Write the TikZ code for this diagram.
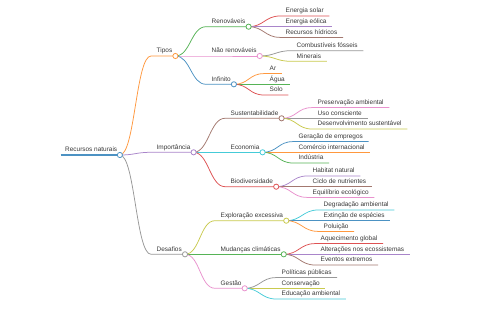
\documentclass[tikz,border=0pt]{standalone}
\usepackage{fontspec}
\setmainfont{Liberation Sans}
\definecolor{cblueB}{HTML}{1F77B4}
\definecolor{corangeB}{HTML}{FF7F0E}
\definecolor{cgreenB}{HTML}{2CA02C}
\definecolor{credB}{HTML}{D62728}
\definecolor{cpurpleB}{HTML}{9467BD}
\definecolor{cbrownB}{HTML}{8C564B}
\definecolor{cpinkB}{HTML}{E377C2}
\definecolor{cgrayB}{HTML}{7F7F7F}
\definecolor{coliveB}{HTML}{BCBD22}
\definecolor{ccyanB}{HTML}{17BECF}
\colorlet{cblue}{cblueB!80!white}
\colorlet{corange}{corangeB!80!white}
\colorlet{cgreen}{cgreenB!80!white}
\colorlet{cred}{credB!80!white}
\colorlet{cpurple}{cpurpleB!80!white}
\colorlet{cbrown}{cbrownB!80!white}
\colorlet{cpink}{cpinkB!80!white}
\colorlet{cgray}{cgrayB!80!white}
\colorlet{colive}{coliveB!80!white}
\colorlet{ccyan}{ccyanB!80!white}
\definecolor{txt}{HTML}{3A3A3A}
\newcommand\mmfont{\fontsize{6.45pt}{7.5pt}\selectfont}
% leaf: name, parent coordinate, x, y, colour, text
\newcommand\mmleaf[6]{%
  \node[tnode] (#1) at (#3,#4) {#6};
  \draw[edge,#5] (#2) .. controls +(15,0) and +(-15,0) .. (#1.south west) -- (#1.south east);
}
% inner node: name, parent coordinate, x, y, colour, text
\newcommand\mminner[6]{%
  \node[tnode] (#1) at (#3,#4) {#6};
  \coordinate (#1C) at ([xshift=-2.5pt]#1.south east);
  \draw[edge,#5] (#2) .. controls +(15,0) and +(-15,0) .. (#1.south west) -- (#1C);
}
\begin{document}
\begin{tikzpicture}[x=1pt,y=-1pt,
  tnode/.style={anchor=south west, inner xsep=5.5pt, inner ysep=1.5pt,
    text height=4.7pt, text depth=1.4pt, font=\mmfont, text=txt},
  edge/.style={line width=0.75pt},
  dot/.style={circle, fill=white, line width=0.8pt, minimum size=5.2pt, inner sep=0pt}]
\fill[white] (0,0) rectangle (480,320);
\useasboundingbox (0,0) rectangle (480,320);

% root
\node[tnode, inner xsep=4.5pt] (root) at (60.5,155) {Recursos naturais};
\coordinate (rootC) at ([xshift=-2pt]root.south east);
\draw[cblue, line width=1.6pt] (root.south west) -- (rootC);

% level 1
\mminner{tip}{rootC}{151}{56}{corange}{Tipos}
\mminner{imp}{rootC}{151}{152.3}{cpurple}{Importância}
\mminner{des}{rootC}{151}{254.3}{cgray}{Desafios}

% level 2
\mminner{ren}{tipC}{206}{26.7}{cgreen}{Renováveis}
\mminner{nre}{tipC}{206}{56}{cpink}{Não renováveis}
\mminner{inf}{tipC}{206}{84.3}{cblue}{Infinito}
\mminner{sus}{impC}{225}{118.3}{cbrown}{Sustentabilidade}
\mminner{eco}{impC}{225}{152.3}{ccyan}{Economia}
\mminner{bio}{impC}{225}{186.7}{cred}{Biodiversidade}
\mminner{exp}{desC}{215}{220.7}{colive}{Exploração excessiva}
\mminner{mud}{desC}{215}{254.3}{cgreen}{Mudanças climáticas}
\mminner{ges}{desC}{215}{288.3}{cpink}{Gestão}

% leaves
\mmleaf{l1}{renC}{280}{16}{cred}{Energia solar}
\mmleaf{l2}{renC}{280}{26.7}{cpurple}{Energia eólica}
\mmleaf{l3}{renC}{280}{37.4}{cbrown}{Recursos hídricos}
\mmleaf{l4}{nreC}{291}{50.7}{cgray}{Combustíveis fósseis}
\mmleaf{l5}{nreC}{291}{61.3}{colive}{Minerais}
\mmleaf{l6}{infC}{264}{73.6}{corange}{Ar}
\mmleaf{l7}{infC}{264}{84.3}{cgreen}{Água}
\mmleaf{l8}{infC}{264}{95}{cred}{Solo}
\mmleaf{l9}{susC}{312}{107.6}{cpink}{Preservação ambiental}
\mmleaf{l10}{susC}{312}{118.3}{cgray}{Uso consciente}
\mmleaf{l11}{susC}{312}{129}{colive}{Desenvolvimento sustentável}
\mmleaf{l12}{ecoC}{293}{141.6}{cblue}{Geração de empregos}
\mmleaf{l13}{ecoC}{293}{152.3}{corange}{Comércio internacional}
\mmleaf{l14}{ecoC}{293}{163}{cgreen}{Indústria}
\mmleaf{l15}{bioC}{307}{176}{cpurple}{Habitat natural}
\mmleaf{l16}{bioC}{307}{186.7}{cbrown}{Ciclo de nutrientes}
\mmleaf{l17}{bioC}{307}{197.4}{cpink}{Equilíbrio ecológico}
\mmleaf{l18}{expC}{318}{210}{ccyan}{Degradação ambiental}
\mmleaf{l19}{expC}{318}{220.7}{cblue}{Extinção de espécies}
\mmleaf{l20}{expC}{318}{231.4}{corange}{Poluição}
\mmleaf{l21}{mudC}{315}{243.6}{cred}{Aquecimento global}
\mmleaf{l22}{mudC}{315}{254.3}{cpurple}{Alterações nos ecossistemas}
\mmleaf{l23}{mudC}{315}{265}{cbrown}{Eventos extremos}
\mmleaf{l24}{gesC}{276}{277.6}{cgray}{Políticas públicas}
\mmleaf{l25}{gesC}{276}{288.3}{colive}{Conservação}
\mmleaf{l26}{gesC}{276}{299}{ccyan}{Educação ambiental}

% circles
\node[dot, draw=cblue] (rootD) at (rootC) {};
\node[dot, draw=corange] (tipD) at (tipC) {};
\node[dot, draw=cpurple] (impD) at (impC) {};
\node[dot, draw=cgray] (desD) at (desC) {};
\node[dot, draw=cgreen] (renD) at (renC) {};
\node[dot, draw=cpink] (nreD) at (nreC) {};
\node[dot, draw=cblue] (infD) at (infC) {};
\node[dot, draw=cbrown] (susD) at (susC) {};
\node[dot, draw=ccyan] (ecoD) at (ecoC) {};
\node[dot, draw=cred] (bioD) at (bioC) {};
\node[dot, draw=colive] (expD) at (expC) {};
\node[dot, draw=cgreen] (mudD) at (mudC) {};
\node[dot, draw=cpink] (gesD) at (gesC) {};
\end{tikzpicture}
\end{document}
